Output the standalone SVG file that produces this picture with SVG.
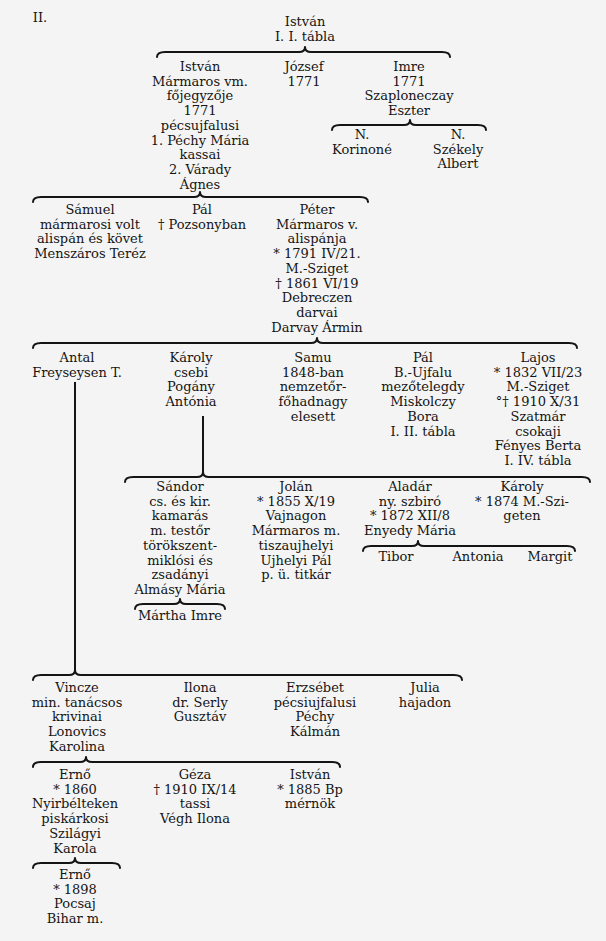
<svg xmlns="http://www.w3.org/2000/svg" width="606" height="941" viewBox="0 0 606 941">
<style>
.bg{fill:#f4f4f4}
text{font-family:"DejaVu Serif","Liberation Serif",serif;font-size:13px;fill:#141414;text-anchor:middle}
.br{fill:none;stroke:#141414;stroke-width:2;stroke-linecap:round;stroke-linejoin:round}
.vl{stroke:#141414;stroke-width:2}
</style>
<rect class="bg" x="0" y="0" width="606" height="941"/>
<text x="40" y="22">II.</text>

<g id="connectors">
<path class="br" d="M157,57 Q157,52 165,52 L299,52 Q305,52 305,47 Q305,52 311,52 L442,52 Q450,52 450,57"/>
<path class="br" d="M332,130 Q332,125 340,125 L404,125 Q410,125 410,120 Q410,125 416,125 L478,125 Q486,125 486,130"/>
<path class="br" d="M33,202 Q33,197 41,197 L194,197 Q200,197 200,192 Q200,197 206,197 L360,197 Q368,197 368,202"/>
<path class="br" d="M33,348 Q33,343 41,343 L311,343 Q317,343 317,338 Q317,343 323,343 L569,343 Q577,343 577,348"/>
<path class="br" d="M125,482 Q125,477 133,477 L197,477 Q203,477 203,472 Q203,477 209,477 L582,477 Q590,477 590,482"/>
<path class="br" d="M363,551 Q363,546 371,546 L412,546 Q418,546 418,541 Q418,546 424,546 L567,546 Q575,546 575,551"/>
<path class="br" d="M135,609 Q135,604 143,604 L174,604 Q180,604 180,599 Q180,604 186,604 L217,604 Q225,604 225,609"/>
<path class="br" d="M33,680 Q33,675 41,675 L69,675 Q75,675 75,670 Q75,675 81,675 L454,675 Q462,675 462,680"/>
<path class="br" d="M33,767 Q33,762 41,762 L80,762 Q86,762 86,757 Q86,762 92,762 L332,762 Q340,762 340,767"/>
<path class="br" d="M33,868 Q33,863 41,863 L69,863 Q75,863 75,858 Q75,863 81,863 L112,863 Q120,863 120,868"/>
<line class="vl" x1="75" y1="382" x2="75" y2="670"/>
<line class="vl" x1="203" y1="416" x2="203" y2="472"/>
</g>

<g id="istvan-root"><text x="305" y="26">István<tspan x="305" dy="15">I. I. tábla</tspan></text></g>

<g id="istvan"><text x="200" y="71">István<tspan x="200" dy="14.7">Mármaros vm.</tspan><tspan x="200" dy="14.7">főjegyzője</tspan><tspan x="200" dy="14.7">1771</tspan><tspan x="200" dy="14.7">pécsujfalusi</tspan><tspan x="200" dy="14.7">1. Péchy Mária</tspan><tspan x="200" dy="14.7">kassai</tspan><tspan x="200" dy="14.7">2. Várady</tspan><tspan x="200" dy="14.7">Ágnes</tspan></text></g>
<g id="jozsef"><text x="304" y="71">József<tspan x="304" dy="14.7">1771</tspan></text></g>
<g id="imre"><text x="409" y="71">Imre<tspan x="409" dy="14.7">1771</tspan><tspan x="409" dy="14.7">Szaploneczay</tspan><tspan x="409" dy="14.7">Eszter</tspan></text></g>
<g id="n-korinone"><text x="362" y="139">N.<tspan x="362" dy="14.7">Korinoné</tspan></text></g>
<g id="n-szekely"><text x="458" y="139">N.<tspan x="458" dy="14.7">Székely</tspan><tspan x="458" dy="14.7">Albert</tspan></text></g>

<g id="samuel"><text x="90" y="214">Sámuel<tspan x="90" dy="14.7">mármarosi volt</tspan><tspan x="90" dy="14.7">alispán és követ</tspan><tspan x="90" dy="14.7">Menszáros Teréz</tspan></text></g>
<g id="pal1"><text x="202" y="214">Pál<tspan x="202" dy="14.7">† Pozsonyban</tspan></text></g>
<g id="peter"><text x="317" y="214">Péter<tspan x="317" dy="14.7">Mármaros v.</tspan><tspan x="317" dy="14.7">alispánja</tspan><tspan x="317" dy="14.7">* 1791 IV/21.</tspan><tspan x="317" dy="14.7">M.-Sziget</tspan><tspan x="317" dy="14.7">† 1861 VI/19</tspan><tspan x="317" dy="14.7">Debreczen</tspan><tspan x="317" dy="14.7">darvai</tspan><tspan x="317" dy="14.7">Darvay Ármin</tspan></text></g>

<g id="antal"><text x="77" y="362">Antal<tspan x="77" dy="14.7">Freyseysen T.</tspan></text></g>
<g id="karoly1"><text x="191" y="362">Károly<tspan x="191" dy="14.7">csebi</tspan><tspan x="191" dy="14.7">Pogány</tspan><tspan x="191" dy="14.7">Antónia</tspan></text></g>
<g id="samu"><text x="313" y="362">Samu<tspan x="313" dy="14.7">1848-ban</tspan><tspan x="313" dy="14.7">nemzetőr-</tspan><tspan x="313" dy="14.7">főhadnagy</tspan><tspan x="313" dy="14.7">elesett</tspan></text></g>
<g id="pal2"><text x="423" y="362">Pál<tspan x="423" dy="14.7">B.-Ujfalu</tspan><tspan x="423" dy="14.7">mezőtelegdy</tspan><tspan x="423" dy="14.7">Miskolczy</tspan><tspan x="423" dy="14.7">Bora</tspan><tspan x="423" dy="14.7">I. II. tábla</tspan></text></g>
<g id="lajos"><text x="538" y="362">Lajos<tspan x="538" dy="14.7">* 1832 VII/23</tspan><tspan x="538" dy="14.7">M.-Sziget</tspan><tspan x="538" dy="14.7">°† 1910 X/31</tspan><tspan x="538" dy="14.7">Szatmár</tspan><tspan x="538" dy="14.7">csokaji</tspan><tspan x="538" dy="14.7">Fényes Berta</tspan><tspan x="538" dy="14.7">I. IV. tábla</tspan></text></g>

<g id="sandor"><text x="180" y="491">Sándor<tspan x="180" dy="14.7">cs. és kir.</tspan><tspan x="180" dy="14.7">kamarás</tspan><tspan x="180" dy="14.7">m. testőr</tspan><tspan x="180" dy="14.7">törökszent-</tspan><tspan x="180" dy="14.7">miklósi és</tspan><tspan x="180" dy="14.7">zsadányi</tspan><tspan x="180" dy="14.7">Almásy Mária</tspan></text></g>
<g id="martha-imre"><text x="180" y="620">Mártha Imre</text></g>
<g id="jolan"><text x="296" y="491">Jolán<tspan x="296" dy="14.7">* 1855 X/19</tspan><tspan x="296" dy="14.7">Vajnagon</tspan><tspan x="296" dy="14.7">Mármaros m.</tspan><tspan x="296" dy="14.7">tiszaujhelyi</tspan><tspan x="296" dy="14.7">Ujhelyi Pál</tspan><tspan x="296" dy="14.7">p. ü. titkár</tspan></text></g>
<g id="aladar"><text x="410" y="491">Aladár<tspan x="410" dy="14.7">ny. szbiró</tspan><tspan x="410" dy="14.7">* 1872 XII/8</tspan><tspan x="410" dy="14.7">Enyedy Mária</tspan></text></g>
<g id="karoly2"><text x="522" y="491">Károly<tspan x="522" dy="14.7">* 1874 M.-Szi-</tspan><tspan x="522" dy="14.7">geten</tspan></text></g>
<g id="tibor"><text x="396" y="561">Tibor</text></g>
<g id="antonia"><text x="478" y="561">Antonia</text></g>
<g id="margit"><text x="550" y="561">Margit</text></g>

<g id="vincze"><text x="77" y="692">Vincze<tspan x="77" dy="14.7">min. tanácsos</tspan><tspan x="77" dy="14.7">krivinai</tspan><tspan x="77" dy="14.7">Lonovics</tspan><tspan x="77" dy="14.7">Karolina</tspan></text></g>
<g id="ilona"><text x="200" y="692">Ilona<tspan x="200" dy="14.7">dr. Serly</tspan><tspan x="200" dy="14.7">Gusztáv</tspan></text></g>
<g id="erzsebet"><text x="315" y="692">Erzsébet<tspan x="315" dy="14.7">pécsiujfalusi</tspan><tspan x="315" dy="14.7">Péchy</tspan><tspan x="315" dy="14.7">Kálmán</tspan></text></g>
<g id="julia"><text x="425" y="692">Julia<tspan x="425" dy="14.7">hajadon</tspan></text></g>

<g id="erno1"><text x="75" y="779">Ernő<tspan x="75" dy="14.7">* 1860</tspan><tspan x="75" dy="14.7">Nyirbélteken</tspan><tspan x="75" dy="14.7">piskárkosi</tspan><tspan x="75" dy="14.7">Szilágyi</tspan><tspan x="75" dy="14.7">Karola</tspan></text></g>
<g id="geza"><text x="195" y="779">Géza<tspan x="195" dy="14.7">† 1910 IX/14</tspan><tspan x="195" dy="14.7">tassi</tspan><tspan x="195" dy="14.7">Végh Ilona</tspan></text></g>
<g id="istvan3"><text x="310" y="779">István<tspan x="310" dy="14.7">* 1885 Bp</tspan><tspan x="310" dy="14.7">mérnök</tspan></text></g>

<g id="erno2"><text x="75" y="879">Ernő<tspan x="75" dy="14.5">* 1898</tspan><tspan x="75" dy="14.5">Pocsaj</tspan><tspan x="75" dy="14.5">Bihar m.</tspan></text></g>
</svg>
